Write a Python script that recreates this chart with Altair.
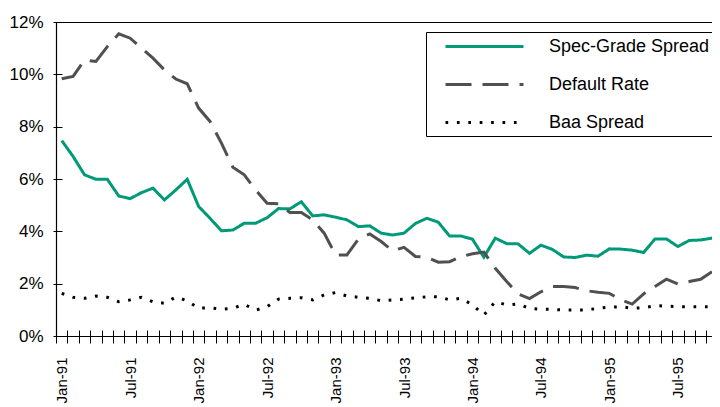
import json
import altair as alt
import pandas as pd

# ---- data -------------------------------------------------------------
month_names = ["Jan", "Feb", "Mar", "Apr", "May", "Jun",
               "Jul", "Aug", "Sep", "Oct", "Nov", "Dec"]
years = ["91", "92", "93", "94", "95"]
months = [f"{m}-{y}" for y in years for m in month_names][:59]

spec_grade = [7.47, 6.86, 6.16, 5.99, 5.99, 5.35, 5.25, 5.48, 5.65, 5.20,
              5.58, 5.99, 4.95, 4.50, 4.02, 4.05, 4.31, 4.31, 4.52, 4.87,
              4.86, 5.13, 4.59, 4.63, 4.54, 4.44, 4.18, 4.21, 3.93, 3.86,
              3.93, 4.30, 4.50, 4.35, 3.82, 3.82, 3.70, 3.01, 3.74, 3.53,
              3.52, 3.16, 3.47, 3.31, 3.02, 3.00, 3.09, 3.05, 3.33, 3.32,
              3.28, 3.19, 3.71, 3.71, 3.42, 3.65, 3.67, 3.74, 4.00]

default_rate = [9.83, 9.92, 10.55, 10.49, 11.06, 11.55, 11.38, 11.00, 10.62, 10.17,
                9.82, 9.64, 8.71, 8.20, 7.37, 6.45, 6.16, 5.58, 5.07, 5.05,
                4.72, 4.72, 4.44, 3.93, 3.10, 3.10, 3.70, 3.90, 3.61, 3.26,
                3.39, 3.04, 3.01, 2.82, 2.84, 3.03, 3.14, 3.21, 2.59, 2.08,
                1.61, 1.43, 1.69, 1.89, 1.89, 1.85, 1.73, 1.67, 1.63, 1.38,
                1.22, 1.61, 1.89, 2.17, 1.99, 2.08, 2.17, 2.46, 2.70]

baa_spread = [1.63, 1.48, 1.44, 1.53, 1.48, 1.31, 1.38, 1.48, 1.31, 1.25,
              1.49, 1.35, 1.06, 1.08, 1.02, 1.06, 1.21, 0.99, 1.12, 1.41,
              1.44, 1.46, 1.38, 1.57, 1.66, 1.53, 1.48, 1.44, 1.35, 1.38,
              1.41, 1.46, 1.50, 1.50, 1.38, 1.44, 1.19, 0.80, 1.31, 1.19,
              1.22, 1.06, 1.02, 1.02, 0.99, 0.99, 0.99, 1.06, 1.10, 1.12,
              1.06, 1.08, 1.16, 1.14, 1.12, 1.12, 1.12, 1.12, 1.12]

series_names = ["Spec-Grade Spread", "Default Rate", "Baa Spread"]
series_colors = ["#009a78", "#505050", "#000000"]
series_dashes = [[1, 0], [26, 11], [2.7, 8.7]]
y_ticks = [0, 2, 4, 6, 8, 10, 12]

rows = []
for name, vals in zip(series_names, [spec_grade, default_rate, baa_spread]):
    for i, v in enumerate(vals):
        rows.append({"idx": i, "month": months[i], "series": name, "value": v})
df = pd.DataFrame(rows)

n = len(months)
tick_vals = [i - 0.5 for i in range(n)]
tick_labels = [m if m.startswith(("Jan", "Jul")) else "" for m in months]
label_expr = json.dumps(tick_labels) + "[datum.value + 0.5] || ''"

FONT = "Liberation Sans"
MONTH_PX = 11.41
W, H = 656, 314
x_max = -0.5 + W / MONTH_PX

legend = alt.Legend(
    title=None, orient="none", legendX=370, legendY=10,
    symbolType="M-4.333,0L4.333,0", symbolSize=324, symbolStrokeWidth=3,
    symbolOffset=44, labelOffset=54, rowPadding=18, padding=4,
    strokeColor="black", fillColor="white", labelLimit=400,
    labelFont=FONT, labelFontSize=18, labelColor="black",
)

x_grid_op = {"condition": {"test": "datum.value == -0.5", "value": 1}, "value": 0}
y_grid_op = {"condition": {"test": "datum.value == 0 || datum.value == 12", "value": 1},
             "value": 0}

chart = alt.Chart(df).mark_line(strokeWidth=3, clip=True, strokeCap="butt").encode(
    x=alt.X("idx:Q",
            scale=alt.Scale(domain=[-0.5, x_max], nice=False, zero=False),
            axis=alt.Axis(values=tick_vals, title=None, domain=False,
                          grid=True, gridColor="black", gridWidth=1.2,
                          gridOpacity=x_grid_op,
                          tickSize=13, tickColor="black", tickWidth=1, offset=-6,
                          labelExpr=label_expr, labelAngle=270, labelFont=FONT,
                          labelFontSize=15, labelColor="black", labelPadding=14,
                          labelOffset=MONTH_PX / 2, labelOverlap=False,
                          labelFlush=False, labelBound=False)),
    y=alt.Y("value:Q",
            scale=alt.Scale(domain=[0, 12], nice=False),
            axis=alt.Axis(values=y_ticks, title=None, domain=False,
                          grid=True, gridColor="black", gridWidth=1.2,
                          gridOpacity=y_grid_op,
                          tickSize=9, tickColor="black", tickWidth=1, offset=-6,
                          labelExpr="datum.value + '%'", labelFont=FONT,
                          labelFontSize=17, labelColor="black", labelPadding=10,
                          labelFlush=False)),
    color=alt.Color("series:N", scale=alt.Scale(domain=series_names, range=series_colors),
                    legend=legend),
    strokeDash=alt.StrokeDash("series:N",
                              scale=alt.Scale(domain=series_names, range=series_dashes),
                              legend=legend),
).properties(
    width=W, height=H,
    autosize=alt.AutoSizeParams(type="none"),
    padding={"left": 48, "top": 14, "right": 0, "bottom": 70},
    background="white",
).configure_view(stroke=None)

chart.save("out.html", embed_options={"renderer": "svg", "actions": False})
